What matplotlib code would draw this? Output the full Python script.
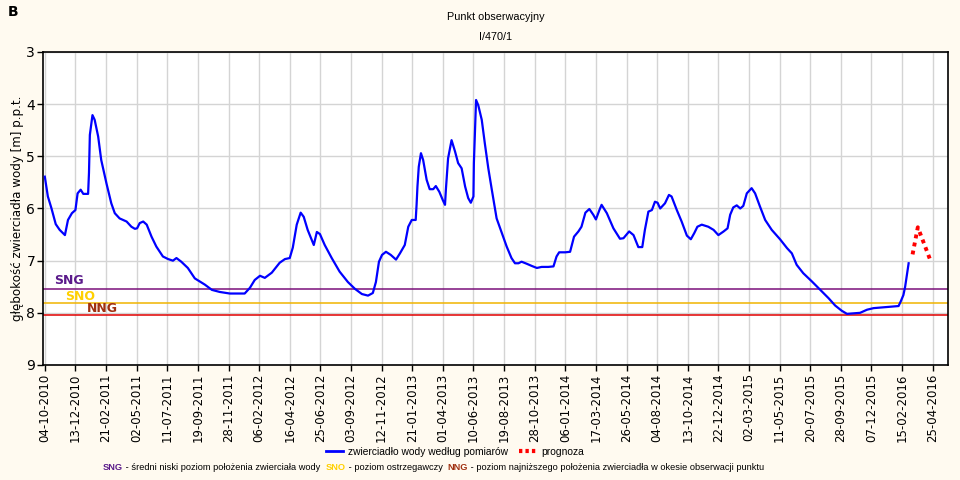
import matplotlib
matplotlib.use("Agg")
import matplotlib.pyplot as plt
from matplotlib.lines import Line2D
from datetime import datetime, timedelta

# ---- data ----
meas_dates = [
    "2010-10-04", "2010-10-11", "2010-10-19", "2010-10-29", "2010-11-07", "2010-11-19",
    "2010-11-26", "2010-12-05", "2010-12-13", "2010-12-18", "2010-12-25", "2010-12-31",
    "2011-01-11", "2011-01-13", "2011-01-15", "2011-01-21", "2011-01-26", "2011-02-03",
    "2011-02-10", "2011-02-22", "2011-03-05", "2011-03-13", "2011-03-24", "2011-04-09",
    "2011-04-20", "2011-04-28", "2011-05-03", "2011-05-09", "2011-05-17", "2011-05-25",
    "2011-06-05", "2011-06-16", "2011-07-01", "2011-07-13", "2011-07-24", "2011-08-01",
    "2011-08-12", "2011-08-27", "2011-09-12", "2011-10-05", "2011-10-21", "2011-11-08",
    "2011-12-01", "2012-01-04", "2012-01-16", "2012-01-27", "2012-02-08", "2012-02-19",
    "2012-03-06", "2012-03-24", "2012-04-05", "2012-04-16", "2012-04-23", "2012-05-02",
    "2012-05-11", "2012-05-18", "2012-05-27", "2012-06-10", "2012-06-17", "2012-06-24",
    "2012-07-05", "2012-07-21", "2012-08-08", "2012-08-27", "2012-09-12", "2012-09-28",
    "2012-10-12", "2012-10-23", "2012-10-30", "2012-11-06", "2012-11-13", "2012-11-22",
    "2012-12-03", "2012-12-15", "2012-12-24", "2013-01-04", "2013-01-12", "2013-01-20",
    "2013-01-29", "2013-01-31", "2013-02-02", "2013-02-05", "2013-02-10", "2013-02-15",
    "2013-02-23", "2013-03-02", "2013-03-10", "2013-03-16", "2013-03-24", "2013-04-01",
    "2013-04-06", "2013-04-08", "2013-04-13", "2013-04-21", "2013-04-29", "2013-05-06",
    "2013-05-14", "2013-05-22", "2013-05-29", "2013-06-04", "2013-06-10", "2013-06-11",
    "2013-06-16", "2013-06-21", "2013-06-29", "2013-07-06", "2013-07-14", "2013-07-22",
    "2013-08-02", "2013-08-14", "2013-08-25", "2013-09-05", "2013-09-13", "2013-09-21",
    "2013-09-28", "2013-10-10", "2013-10-21", "2013-11-02", "2013-11-13", "2013-11-28",
    "2013-12-10", "2013-12-17", "2013-12-23", "2014-01-06", "2014-01-17", "2014-01-26",
    "2014-02-05", "2014-02-12", "2014-02-21", "2014-03-02", "2014-03-11", "2014-03-17",
    "2014-03-25", "2014-03-30", "2014-04-11", "2014-04-26", "2014-05-11", "2014-05-19",
    "2014-06-01", "2014-06-11", "2014-06-22", "2014-07-01", "2014-07-07", "2014-07-15",
    "2014-07-23", "2014-07-30", "2014-08-05", "2014-08-11", "2014-08-22", "2014-08-31",
    "2014-09-06", "2014-09-18", "2014-09-29", "2014-10-11", "2014-10-20", "2014-10-28",
    "2014-11-04", "2014-11-14", "2014-11-29", "2014-12-11", "2014-12-22", "2015-01-03",
    "2015-01-12", "2015-01-18", "2015-01-25", "2015-02-02", "2015-02-10", "2015-02-17",
    "2015-02-25", "2015-03-08", "2015-03-16", "2015-03-27", "2015-04-08", "2015-04-23",
    "2015-05-12", "2015-05-28", "2015-06-08", "2015-06-19", "2015-07-04", "2015-07-24",
    "2015-08-12", "2015-08-31", "2015-09-15", "2015-09-30", "2015-10-12", "2015-10-27",
    "2015-11-11", "2015-11-27", "2015-12-12", "2016-01-11", "2016-02-07", "2016-02-12",
    "2016-02-18", "2016-02-22", "2016-02-26", "2016-03-01",
]
meas_depth = [
    5.39, 5.77, 5.99, 6.30, 6.41, 6.51,
    6.22, 6.09, 6.03, 5.71, 5.64, 5.72,
    5.72, 5.32, 4.59, 4.21, 4.30, 4.62,
    5.07, 5.52, 5.90, 6.09, 6.19, 6.25,
    6.35, 6.39, 6.38, 6.28, 6.25, 6.31,
    6.54, 6.73, 6.92, 6.97, 7.00, 6.95,
    7.02, 7.14, 7.34, 7.46, 7.56, 7.60,
    7.63, 7.63, 7.52, 7.37, 7.29, 7.33,
    7.23, 7.04, 6.97, 6.95, 6.75, 6.31,
    6.08, 6.16, 6.41, 6.70, 6.45, 6.49,
    6.70, 6.95, 7.21, 7.41, 7.54, 7.64,
    7.67, 7.62, 7.41, 7.02, 6.89, 6.83,
    6.89, 6.98, 6.86, 6.70, 6.35, 6.22,
    6.22, 5.93, 5.58, 5.20, 4.94, 5.07,
    5.45, 5.63, 5.63, 5.57, 5.68, 5.84,
    5.93, 5.64, 5.04, 4.69, 4.91, 5.13,
    5.23, 5.58, 5.80, 5.89, 5.77, 5.13,
    3.92, 4.02, 4.30, 4.75, 5.23, 5.64,
    6.19, 6.47, 6.73, 6.95, 7.05, 7.05,
    7.02, 7.06, 7.10, 7.14, 7.12, 7.12,
    7.11, 6.92, 6.84, 6.84, 6.83, 6.54,
    6.44, 6.35, 6.08, 6.01, 6.12, 6.21,
    6.03, 5.93, 6.09, 6.38, 6.58, 6.57,
    6.44, 6.51, 6.74, 6.74, 6.41, 6.06,
    6.03, 5.87, 5.89, 6.00, 5.90, 5.74,
    5.77, 6.03, 6.25, 6.52, 6.59, 6.47,
    6.35, 6.31, 6.35, 6.41, 6.51, 6.44,
    6.38, 6.12, 5.98, 5.94, 6.00, 5.95,
    5.71, 5.61, 5.71, 5.96, 6.22, 6.41,
    6.59, 6.76, 6.86, 7.08, 7.24, 7.40,
    7.56, 7.72, 7.86, 7.96, 8.02, 8.01,
    8.00, 7.94, 7.91, 7.89, 7.87, 7.78,
    7.66, 7.50, 7.27, 7.05,
]
forecast_dates = ["2016-03-10", "2016-03-22", "2016-04-20"]
forecast_depth = [6.88, 6.36, 7.00]

SNG = 7.55
SNO = 7.81
NNG = 8.04

tick_start = "2010-10-04"
tick_step_days = 70
n_ticks = 30
y_ticks = [3, 4, 5, 6, 7, 8, 9]

title_lines = ["Punkt obserwacyjny", "I/470/1"]
ylabel = "głębokość zwierciadła wody [m] p.p.t."
legend_labels = ["zwierciadło wody według pomiarów", "prognoza"]

# ---- plotting ----
BG = "#fffaf0"
plt.rcParams['font.family'] = ['DejaVu Sans']
NARROW = ['Liberation Sans', 'DejaVu Sans']

def to_dt(s):
    return datetime.strptime(s, "%Y-%m-%d")

md = [to_dt(s) for s in meas_dates]
fd = [to_dt(s) for s in forecast_dates]

fig = plt.figure(figsize=(9.6, 4.8), dpi=100, facecolor=BG)
ax = fig.add_axes([0.0453, 0.2396, 0.9422, 0.6521])
ax.set_facecolor("white")

t0 = to_dt(tick_start)
ticks = [t0 + timedelta(days=tick_step_days * k) for k in range(n_ticks)]
ax.set_xlim(t0 - timedelta(days=3), ticks[-1] + timedelta(days=35))
ax.set_ylim(9, 3)
ax.set_xticks(ticks)
ax.set_xticklabels([t.strftime("%d-%m-%Y") for t in ticks], rotation=90, fontsize=8.5)
ax.set_yticks(y_ticks)
ax.set_yticklabels([str(v) for v in y_ticks], fontsize=10)
ax.tick_params(axis='both', direction='out', length=4, width=1, color='black', pad=2)
ax.grid(True, color='#d4d4d4', linewidth=1)
ax.set_axisbelow(True)
for s in ax.spines.values():
    s.set_linewidth(1.2)
    s.set_color('black')

ax.axhline(SNG, color='#7a107a', linewidth=1.1, zorder=2)
ax.axhline(SNO, color='#f0b400', linewidth=1.1, zorder=2)
ax.axhline(NNG, color='#e00000', linewidth=1.1, zorder=2)

ax.plot(md, meas_depth, color='#0000ff', linewidth=1.6, zorder=3,
        label=legend_labels[0])
ax.plot(fd, forecast_depth, color='#ff0000', linewidth=2.8, linestyle=(0, (1, 1.1)),
        zorder=3, label=legend_labels[1])

ax.text(0.028, 7.38, "SNG", transform=ax.get_yaxis_transform(), color='#5a1a8a',
        fontsize=9, fontweight='bold', ha='center', va='center')
ax.text(0.041, 7.68, "SNO", transform=ax.get_yaxis_transform(), color='#ffd000',
        fontsize=9, fontweight='bold', ha='center', va='center')
ax.text(0.065, 7.91, "NNG", transform=ax.get_yaxis_transform(), color='#a03010',
        fontsize=9, fontweight='bold', ha='center', va='center')

ax.set_ylabel(ylabel, fontsize=8.6, labelpad=2)

fig.text(496 / 960, 1 - 17 / 480, title_lines[0], ha='center', va='center',
         fontsize=7.8, family=NARROW)
fig.text(496 / 960, 1 - 37 / 480, title_lines[1], ha='center', va='center',
         fontsize=7.8, family=NARROW)
fig.text(8 / 960, 1 - 12 / 480, "B", ha='left', va='center', fontsize=10, fontweight='bold')

handles = [Line2D([], [], color='#0000ff', linewidth=2),
           Line2D([], [], color='#ff0000', linewidth=3, linestyle=(0, (0.8, 0.75)))]
fig.legend(handles, legend_labels, loc='center', bbox_to_anchor=(455 / 960, 1 - 452 / 480),
           ncol=2, frameon=False, prop={'family': NARROW, 'size': 7.4},
           handlelength=1.7, columnspacing=1.0, handletextpad=0.5)

# bottom explanatory line with coloured abbreviations
parts = [("SNG", '#5a1a8a', 'bold'), (" - średni niski poziom położenia zwierciała wody  ", 'black', 'normal'),
         ("SNO", '#ffd000', 'bold'), (" - poziom ostrzegawczy  ", 'black', 'normal'),
         ("NNG", '#a03010', 'bold'), (" - poziom najniższego położenia zwierciadła w okesie obserwacji punktu", 'black', 'normal')]
FS = 6.7
prev = fig.text(103 / 960, 1 - 467 / 480, parts[0][0], color=parts[0][1], fontweight=parts[0][2],
                fontsize=FS, ha='left', va='center', family=NARROW)
for txt, col, fw in parts[1:]:
    prev = fig.add_artist(plt.Annotation(txt, xy=(1, 0.5), xycoords=prev, va='center', ha='left',
                                         color=col, fontweight=fw, fontsize=FS, family=NARROW))

fig.savefig("out.png", dpi=100, facecolor=BG)
